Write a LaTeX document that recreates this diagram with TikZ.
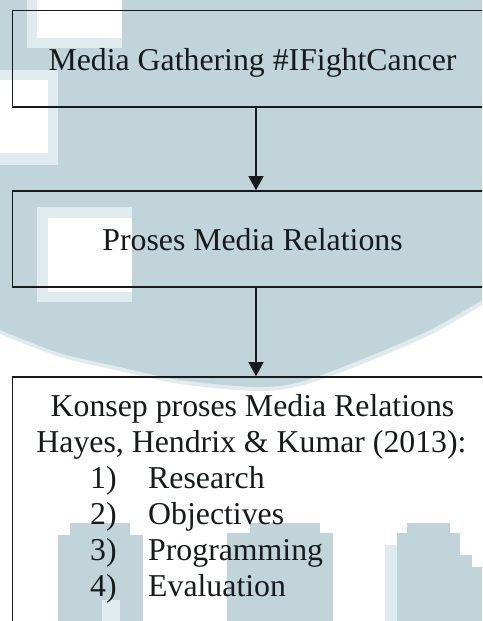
\documentclass[tikz,border=0pt]{standalone}
\usepackage{fontspec}
\setmainfont{Liberation Serif}
\usetikzlibrary{arrows.meta}
\definecolor{bgblue}{RGB}{193,212,218}
\definecolor{paleblue}{RGB}{224,235,239}
\definecolor{ink}{RGB}{22,26,28}
\tikzset{
  flowbox/.style={draw=ink, line width=1.6pt, rectangle, inner sep=0pt,
    minimum width=480pt, text=ink, font=\fontsize{31.8}{36}\selectfont,
    text height=22.5pt, text depth=0pt},
  itemtext/.style={text=ink, font=\fontsize{31.8}{36}\selectfont, inner sep=0pt},
  flowarrow/.style={draw=ink, line width=1.2pt, -{Triangle[width=15pt,length=14pt]}}
}
\begin{document}
\begin{tikzpicture}[x=1pt,y=-1pt]
\useasboundingbox (0,0) rectangle (482,621);
\clip (0,0) rectangle (482,621);
% watermark background
\fill[white] (0,0) rectangle (482,621);
\fill[paleblue] (0,0) -- (482,0) -- plot[smooth] coordinates {(482,305) (430,335) (360,365) (300,386) (256,391) (180,384) (120,371) (60,357) (0,334)} -- cycle;
\fill[bgblue] (0,0) -- (482,0) -- plot[smooth] coordinates {(482,300) (430,330) (360,360) (300,382) (256,387) (180,380) (120,367) (60,353) (0,330)} -- cycle;
\fill[paleblue] (27,0) rectangle (122,48);
\fill[white] (37,0) rectangle (122,38);
\fill[paleblue] (0,70) rectangle (58,165);
\fill[white] (0,80) rectangle (48,153);
\fill[paleblue] (37,207) rectangle (132,302);
\fill[white] (48,218) rectangle (132,292);
% bottom columns
\fill[bgblue] (58,535) rectangle (143,621);
\fill[bgblue] (70,523) rectangle (130,535);
\fill[paleblue] (102,600) rectangle (120,621);
\fill[bgblue] (227,533) rectangle (333,621);
\fill[bgblue] (250,523) rectangle (320,533);
\fill[paleblue] (385,545) rectangle (397,621);
\fill[bgblue] (397,533) rectangle (460,621);
\fill[bgblue] (407,523) rectangle (450,533);
\fill[bgblue] (460,555) rectangle (472,621);
\fill[bgblue] (472,567) rectangle (482,621);
% boxes
\node[flowbox, minimum height=96.5pt] (b1) at (252.5,58.75) {Media Gathering \#IFightCancer};
\node[flowbox, minimum height=96pt] (b2) at (252.5,239) {Proses Media Relations};
\node[flowbox, minimum height=260pt] (b3) at (252.5,507) {};
\coordinate (ax) at (256,0);
\draw[flowarrow] (b1.south -| ax) -- (b2.north -| ax);
\draw[flowarrow] (b2.south -| ax) -- (b3.north -| ax);
% box 3 text
\node[itemtext, anchor=base] (t1) at (252.5,416) {Konsep proses Media Relations};
\node[itemtext, anchor=base] (t2) at (251.5,452) {Hayes, Hendrix \& Kumar (2013):};
\node[itemtext, anchor=base west] (n1) at (90,488) {1)};
\node[itemtext, anchor=base west] (i1) at (148,488) {Research};
\node[itemtext, anchor=base west] (n2) at (90,524) {2)};
\node[itemtext, anchor=base west] (i2) at (148,524) {Objectives};
\node[itemtext, anchor=base west] (n3) at (90,560) {3)};
\node[itemtext, anchor=base west] (i3) at (148,560) {Programming};
\node[itemtext, anchor=base west] (n4) at (90,596) {4)};
\node[itemtext, anchor=base west] (i4) at (148,596) {Evaluation};
\end{tikzpicture}
\end{document}
